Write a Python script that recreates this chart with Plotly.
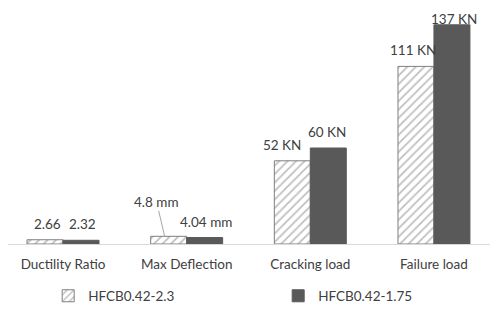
import plotly.graph_objects as go

categories = ["Ductility Ratio", "Max Deflection", "Cracking load", "Failure load"]
series_names = ["HFCB0.42-2.3", "HFCB0.42-1.75"]
values_a = [2.66, 4.8, 52, 111]
values_b = [2.32, 4.04, 60, 137]
labels_a = ["2.66", "4.8 mm", "52 KN", "111 KN"]
labels_b = ["2.32", "4.04 mm", "60 KN", "137 KN"]

font_family = "Lato, Open Sans, sans-serif"
text_color = "#404040"
fs = 13.5

fig = go.Figure()
fig.add_trace(go.Bar(
    x=categories, y=values_a, name=series_names[0],
    marker=dict(color="white", line=dict(color="#7f7f7f", width=1),
                pattern=dict(shape="/", fgcolor="#7f7f7f", bgcolor="white", size=6, solidity=0.3)),
))
fig.add_trace(go.Bar(
    x=categories, y=values_b, name=series_names[1],
    marker=dict(color="#595959", line=dict(color="#595959", width=1)),
))

ann = []
offs_a = [(-16, 7, None), (-22, 0, (-8, -34)), (-28, 7, None), (-21, 7, None)]
offs_b = [(19, 7, None), (19, 7, None), (17, 7, None), (20, -3, None)]
for i, c in enumerate(categories):
    xs, ys, arr = offs_a[i]
    if arr is None:
        ann.append(dict(x=c, y=values_a[i], text=labels_a[i], showarrow=False,
                        xshift=xs, yshift=ys, yanchor="bottom"))
    else:
        ann.append(dict(x=c, y=values_a[i], text=labels_a[i], showarrow=True,
                        xshift=xs, ax=arr[0], ay=arr[1], arrowhead=0,
                        arrowwidth=1, arrowcolor="#a6a6a6", standoff=0))
    xs, ys, arr = offs_b[i]
    ann.append(dict(x=c, y=values_b[i], text=labels_b[i], showarrow=False,
                    xshift=xs, yshift=ys, yanchor="bottom"))
for a in ann:
    a["font"] = dict(family=font_family, size=fs, color=text_color)
    a["borderpad"] = 0

W, H = 490, 314
fig.update_layout(
    width=W, height=H,
    margin=dict(l=0, r=0, t=0, b=78, autoexpand=False),
    paper_bgcolor="white", plot_bgcolor="white",
    barmode="group", bargap=0.418, bargroupgap=0,
    font=dict(family=font_family, size=fs, color=text_color),
    annotations=ann,
    showlegend=True,
    legend=dict(orientation="h", x=0.082, xref="container", y=(H - 288) / H, yref="container",
                xanchor="left", yanchor="middle",
                entrywidth=185, entrywidthmode="pixels", itemwidth=30,
                font=dict(family=font_family, size=fs, color=text_color)),
    xaxis=dict(range=[-0.445, 3.518], showline=True, linecolor="#d9d9d9", linewidth=1, ticks="",
               automargin=False, ticklabelstandoff=8,
               tickfont=dict(family=font_family, size=fs, color=text_color)),
    yaxis=dict(range=[0, 147.5], visible=False, showgrid=False, zeroline=False),
)

fig.write_html("out.html")
